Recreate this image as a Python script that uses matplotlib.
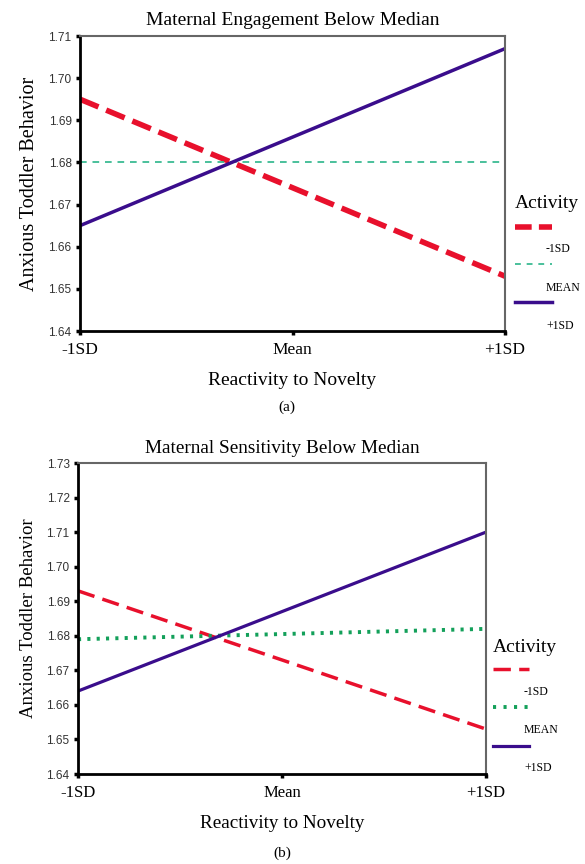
import matplotlib
matplotlib.use("Agg")
import matplotlib.pyplot as plt
from matplotlib.lines import Line2D

# ---- data ----
x_categories = ["-1SD", "Mean", "+1SD"]
x_ends = [0, 2]  # positions of -1SD and +1SD

legend_labels = ["-1SD", "MEAN", "+1SD"]

# panel (a): Maternal Engagement Below Median
a_low = [1.695, 1.653]    # Activity -1SD
a_mean = [1.680, 1.680]   # Activity MEAN
a_high = [1.665, 1.707]   # Activity +1SD
a_yticks = [1.64, 1.65, 1.66, 1.67, 1.68, 1.69, 1.70, 1.71]

# panel (b): Maternal Sensitivity Below Median
b_low = [1.693, 1.653]
b_mean = [1.679, 1.682]
b_high = [1.664, 1.710]
b_yticks = [1.64, 1.65, 1.66, 1.67, 1.68, 1.69, 1.70, 1.71, 1.72, 1.73]

RED = "#e8102c"
GREEN_A = "#2bb58a"
GREEN_B = "#13a05a"
PURPLE = "#3a0d8c"
SERIF = "Liberation Serif"
SANS = "Liberation Sans"

W, H = 585, 864
fig = plt.figure(figsize=(W / 100, H / 100), dpi=100)
fig.patch.set_facecolor("white")


def style_axes(ax, yticks, fs_tick, fs_ylab, fs_xlab, xpad):
    ax.set_xlim(0, 2)
    ax.set_ylim(yticks[0], yticks[-1])
    ax.set_xticks([0, 1, 2])
    ax.set_xticklabels(x_categories, fontfamily=SERIF, fontsize=fs_tick)
    ax.set_yticks(yticks)
    ax.set_yticklabels([f"{v:.2f}" for v in yticks], fontfamily=SANS, fontsize=8.5, color="#333333")
    ax.tick_params(axis="both", direction="out", length=3, width=2.5, color="black")
    ax.tick_params(axis="x", pad=5)
    ax.tick_params(axis="y", pad=3)
    for s in ["left", "bottom"]:
        ax.spines[s].set_color("black")
        ax.spines[s].set_linewidth(2)
    for s in ["top", "right"]:
        ax.spines[s].set_color("#666666")
        ax.spines[s].set_linewidth(1.5)
    ax.set_ylabel("Anxious Toddler Behavior", fontfamily=SERIF, fontsize=fs_ylab, labelpad=7)
    ax.set_xlabel("Reactivity to Novelty", fontfamily=SERIF, fontsize=fs_xlab, labelpad=xpad)


def legend_block(x0, y_title, y_rows, line_styles, label_ys, x_label, length):
    fx = lambda px: px / W
    fy = lambda py: 1 - py / H
    fig.text(fx(x0), fy(y_title), "Activity", fontfamily=SERIF, fontsize=14,
             ha="left", va="center")
    for yr, st in zip(y_rows, line_styles):
        fig.add_artist(Line2D([fx(x0), fx(x0 + length)], [fy(yr), fy(yr)], **st))
    for ly, lab in zip(label_ys, legend_labels):
        fig.text(fx(x_label), fy(ly), lab, fontfamily=SERIF, fontsize=8.5,
                 ha="left", va="center")


# ---- panel (a) ----
ax1 = fig.add_axes([80 / W, 1 - 331 / H, (505 - 80) / W, (331 - 36) / H])
ax1.plot(x_ends, a_low, color=RED, lw=4, ls=(0, (3.6, 1.5)))
ax1.plot(x_ends, a_mean, color=GREEN_A, lw=1.2, ls=(0, (4, 3.5)))
ax1.plot(x_ends, a_high, color=PURPLE, lw=2.5)
style_axes(ax1, a_yticks, 12.5, 14.5, 14, 10)
ax1.set_title("Maternal Engagement Below Median", fontfamily=SERIF, fontsize=14, pad=8)
fig.text(287 / W, 1 - 407 / H, "(a)", fontfamily=SERIF, fontsize=11, ha="center", va="center")

legend_block(515, 203, [227, 264, 302],
             [dict(color=RED, lw=4, ls=(0, (3.0, 1.3))),
              dict(color=GREEN_A, lw=1.2, ls=(0, (3.5, 3.5))),
              dict(color=PURPLE, lw=2.5)],
             [249, 288, 326], 546, 37)

# ---- panel (b) ----
ax2 = fig.add_axes([78 / W, 1 - 774 / H, (486 - 78) / W, (774 - 463) / H])
ax2.plot(x_ends, b_low, color=RED, lw=2.5, ls=(0, (5, 2.4)))
ax2.plot(x_ends, b_mean, color=GREEN_B, lw=2.8, ls=(0, (0.8, 1.6)))
ax2.plot(x_ends, b_high, color=PURPLE, lw=2.3)
style_axes(ax2, b_yticks, 12, 13.5, 13.8, 10)
ax2.set_title("Maternal Sensitivity Below Median", fontfamily=SERIF, fontsize=13.9, pad=7)
fig.text(282 / W, 1 - 853 / H, "(b)", fontfamily=SERIF, fontsize=11, ha="center", va="center")

legend_block(493, 647, [669, 707, 746],
             [dict(color=RED, lw=2.5, ls=(0, (5, 2.4))),
              dict(color=GREEN_B, lw=2.8, ls=(0, (0.8, 1.9))),
              dict(color=PURPLE, lw=2.3)],
             [692, 730, 768], 524, 36)

fig.savefig("out.png", dpi=100, facecolor="white")
